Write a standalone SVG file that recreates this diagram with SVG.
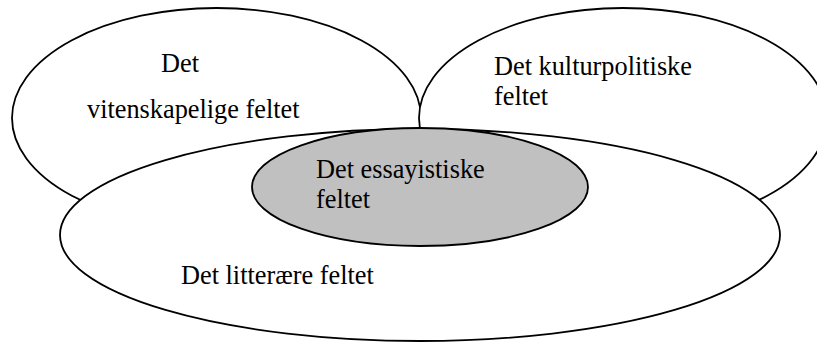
<svg xmlns="http://www.w3.org/2000/svg" width="817" height="347" viewBox="0 0 817 347">
  <style>
    .field { fill: #ffffff; stroke: #000000; stroke-width: 1.8; }
    .core { fill: #c0c0c0; stroke: #000000; stroke-width: 1.8; }
    .label { font-family: "Liberation Serif", "Times New Roman", serif; font-size: 26.3px; fill: #000000; }
  </style>
  <rect width="817" height="347" fill="#ffffff"/>

  <!-- Scientific field (upper left) -->
  <g id="vitenskapelige">
    <ellipse class="field" cx="216.5" cy="118" rx="204.5" ry="110"/>
    <text class="label" x="161" y="72">Det</text>
    <text class="label" x="87" y="118">vitenskapelige feltet</text>
  </g>

  <!-- Cultural-political field (upper right) -->
  <g id="kulturpolitiske">
    <ellipse class="field" cx="623" cy="118" rx="204" ry="110"/>
    <text class="label" x="494" y="75">Det kulturpolitiske</text>
    <text class="label" x="494" y="105">feltet</text>
  </g>

  <!-- Literary field (bottom, overlapping both) -->
  <g id="litteraere">
    <ellipse class="field" cx="420" cy="235" rx="360" ry="106"/>
    <text class="label" x="181" y="284">Det litterære feltet</text>
  </g>

  <!-- Essayistic field (grey core) -->
  <g id="essayistiske">
    <ellipse class="core" cx="420" cy="187" rx="168" ry="59"/>
    <text class="label" x="316" y="178">Det essayistiske</text>
    <text class="label" x="316" y="208">feltet</text>
  </g>
</svg>
